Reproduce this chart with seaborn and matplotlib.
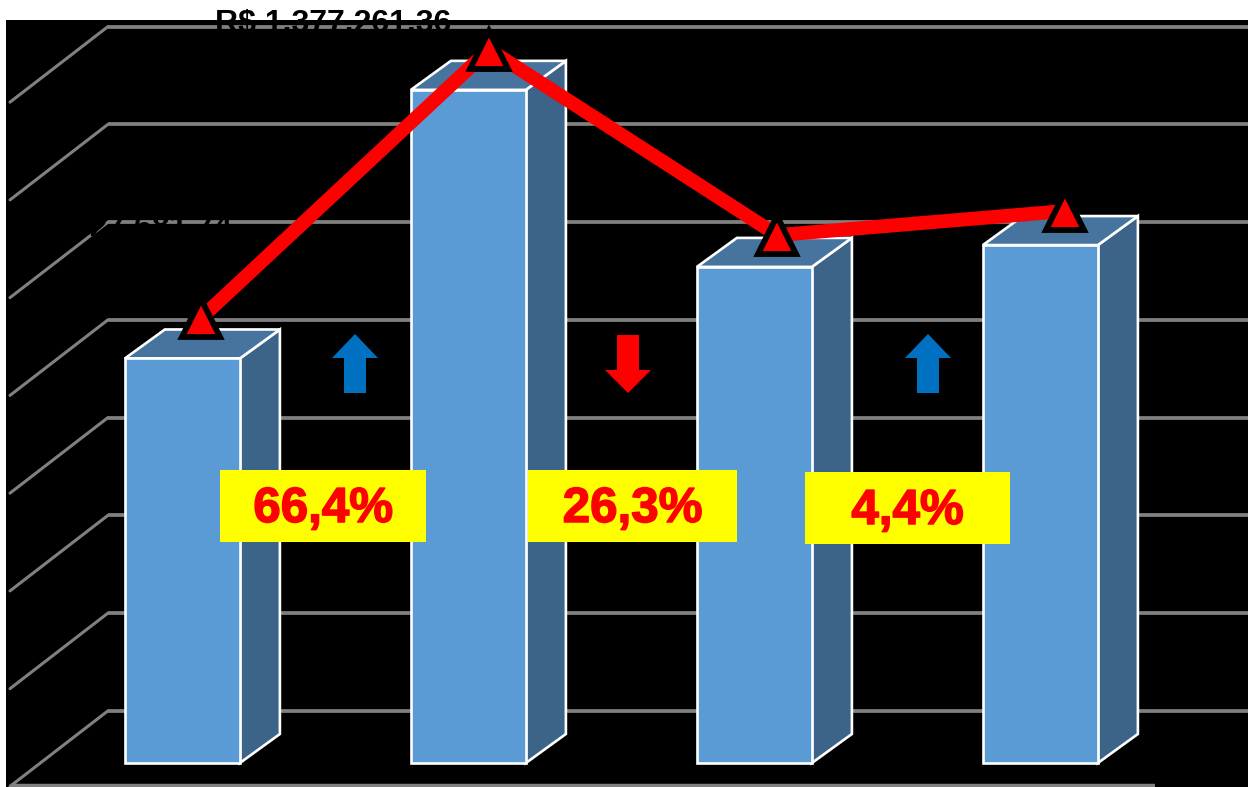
import matplotlib
matplotlib.use('Agg')
import matplotlib.pyplot as plt
import matplotlib.patheffects as pe
from matplotlib.patches import Polygon, Rectangle
from matplotlib.transforms import Affine2D, ScaledTranslation
import seaborn as sns

# values
periods = ['P1', 'P2', 'P3', 'P4']
bar_values = [827681, 1377261.36, 1015041, 1059703]
line_values = [910470, 1459821, 1080000, 1129392]   # line sits higher, drawn in front of the 3D wall
grid_values = [0, 200000, 400000, 600000, 800000, 1000000, 1200000, 1400000]
value_labels = {0: 'R$ 827.681,74', 1: 'R$ 1.377.261,36'}
changes = ['66,4%', '26,3%', '4,4%']
change_up = [True, False, True]

W, H, DPI = 1248, 787, 100
PX_PER_CAT = 286
VAL_PER_PX = 2046
BAR_COLOR = '#5B9BD5'
TOP_COLOR = '#46749F'
SIDE_COLOR = '#3B6488'
GRID_COLOR = '#808080'


def x_of(px):
    return (px - 182.4) / PX_PER_CAT


def y_of(py):
    return (763 - py) * VAL_PER_PX


sns.set_style('white')
plt.rcParams['font.family'] = ['Liberation Sans', 'DejaVu Sans']

fig = plt.figure(figsize=(W / DPI, H / DPI), dpi=DPI, facecolor='white')
ax = fig.add_axes([6 / W, 0, (W - 6) / W, (H - 20) / H], facecolor='black')
pixels = Affine2D().scale(1, -1).translate(0, H)

sns.barplot(x=periods, y=bar_values, color=BAR_COLOR, saturation=1, width=115 / PX_PER_CAT,
            edgecolor='white', linewidth=1.9, ax=ax, zorder=2)

# back wall and floor
wall_shift = 52.2 * VAL_PER_PX
diag_x = 98 / PX_PER_CAT
diag_y = 75.6 * VAL_PER_PX
wall_x = x_of(108)
for g in grid_values:
    ax.plot([wall_x, x_of(W)], [g + wall_shift] * 2, color=GRID_COLOR, lw=2.7, zorder=0.5,
            solid_capstyle='butt')
    ax.plot([wall_x - diag_x, wall_x], [g + wall_shift - diag_y, g + wall_shift], color=GRID_COLOR,
            lw=2.2, zorder=0.5)
ax.plot([wall_x - diag_x, x_of(1155)], [wall_shift - diag_y] * 2, color=GRID_COLOR, lw=3.2, zorder=0.5,
        solid_capstyle='butt')

# 3D side and top of each bar, taken from the seaborn bars
depth_x = 40 / PX_PER_CAT
depth_y = 29 * VAL_PER_PX
for bar in list(ax.patches):
    x0, x1 = bar.get_x(), bar.get_x() + bar.get_width()
    h = bar.get_height()
    ax.add_patch(Polygon([(x1, 0), (x1 + depth_x, depth_y), (x1 + depth_x, h + depth_y), (x1, h)],
                         facecolor=SIDE_COLOR, edgecolor='white', lw=1.9, zorder=1.5, joinstyle='miter'))
    ax.add_patch(Polygon([(x0, h), (x0 + depth_x, h + depth_y), (x1 + depth_x, h + depth_y), (x1, h)],
                         facecolor=TOP_COLOR, edgecolor='white', lw=1.9, zorder=1.5, joinstyle='miter'))

# red line with triangles, spread and shifted right like the 3D projection
shift = (Affine2D().scale(288 / PX_PER_CAT, 1) + ax.transData
         + ScaledTranslation(18.7 / DPI, 0, fig.dpi_scale_trans))
sns.lineplot(x=[0, 1, 2, 3], y=line_values, color='#FF0000', lw=10, marker='^', markersize=27,
             markerfacecolor='#FF0000', markeredgecolor='black', markeredgewidth=4.2,
             errorbar=None, ax=ax, zorder=3, transform=shift)

ax.set_xlim(x_of(6), x_of(W))
ax.set_ylim(y_of(H), y_of(20))
ax.set_xticks([])
ax.set_yticks([])
ax.set_xlabel('')
ax.set_ylabel('')
sns.despine(ax=ax, left=True, bottom=True)

# data labels, black like the original so they vanish on the background
ax.text(x_of(127), y_of(236), value_labels[0], color='black', fontsize=23, fontweight='bold',
        ha='center', va='baseline', zorder=1)
ax.text(x_of(333.5), y_of(32), value_labels[1], color='black', fontsize=23, fontweight='bold',
        ha='center', va='baseline', zorder=1, clip_on=False)

# yellow percentage boxes
boxes = [(220, 470, 206, 72), (528, 470, 209, 72), (805, 472, 205, 72)]
for (bx, by, bw, bh), txt in zip(boxes, changes):
    ax.add_patch(Rectangle((bx, by), bw, bh, transform=pixels, facecolor='#FFFF00', edgecolor='none', zorder=4))
    ax.text(bx + bw / 2, by + bh / 2 + 16, txt, transform=pixels, color='#FF0000', fontsize=35.5,
            fontweight='bold', ha='center', va='baseline', zorder=5,
            path_effects=[pe.withStroke(linewidth=1.1, foreground='#FF0000')])

# arrows between the bars
for cx, up in zip([355, 628, 928], change_up):
    if up:
        pts = [(cx - 23, 358), (cx, 334), (cx + 23, 358), (cx + 11, 358), (cx + 11, 393), (cx - 11, 393), (cx - 11, 358)]
    else:
        pts = [(cx - 23, 370), (cx, 393), (cx + 23, 370), (cx + 11, 370), (cx + 11, 335), (cx - 11, 335), (cx - 11, 370)]
    ax.add_patch(Polygon(pts, transform=pixels, facecolor='#0070C0' if up else '#FF0000',
                         edgecolor='none', zorder=4))

fig.savefig('out.png', dpi=DPI, facecolor='white')
